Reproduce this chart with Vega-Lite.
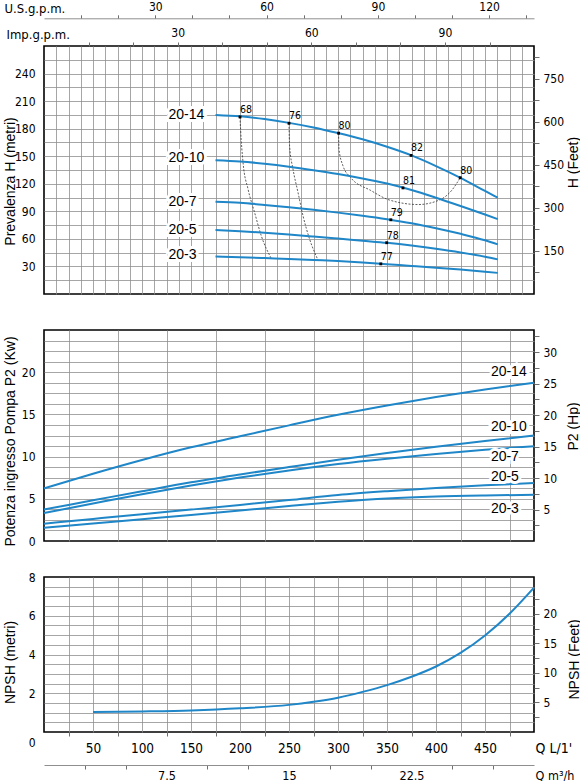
{
  "$schema": "https://vega.github.io/schema/vega-lite/v6.json",
  "background": "white",
  "padding": {"left": 2, "top": 0, "right": 0, "bottom": 0},
  "autosize": {"type": "pad"},
  "bounds": "flush",
  "spacing": 36,
  "config": {
    "view": {"stroke": "#000", "strokeWidth": 1.6},
    "axis": {
      "labelFont": "DejaVu Sans Condensed, Roboto, sans-serif",
      "labelFontSize": 12,
      "labelColor": "#000",
      "titleFont": "Liberation Sans, Arial, sans-serif",
      "titleFontSize": 14,
      "titleFontWeight": "normal",
      "titleColor": "#000",
      "gridColor": "#8f8f8f",
      "gridWidth": 0.8,
      "tickColor": "#6f6f6f",
      "domainColor": "#8f8f8f"
    }
  },
  "datasets": {
    "head": [
      {"pump": "20-14", "q": 175, "v": 195.0}, {"pump": "20-14", "q": 200, "v": 193.4}, {"pump": "20-14", "q": 225, "v": 190.4},
      {"pump": "20-14", "q": 250, "v": 186.3}, {"pump": "20-14", "q": 275, "v": 181.3}, {"pump": "20-14", "q": 300, "v": 175.2},
      {"pump": "20-14", "q": 325, "v": 168.4}, {"pump": "20-14", "q": 350, "v": 160.3}, {"pump": "20-14", "q": 375, "v": 150.9},
      {"pump": "20-14", "q": 400, "v": 139.3}, {"pump": "20-14", "q": 425, "v": 126.5}, {"pump": "20-14", "q": 450, "v": 112.2},
      {"pump": "20-14", "q": 463, "v": 104.8},
      {"pump": "20-10", "q": 175, "v": 145.7}, {"pump": "20-10", "q": 200, "v": 144.3}, {"pump": "20-10", "q": 225, "v": 141.8},
      {"pump": "20-10", "q": 250, "v": 138.6}, {"pump": "20-10", "q": 275, "v": 134.8}, {"pump": "20-10", "q": 300, "v": 130.6},
      {"pump": "20-10", "q": 325, "v": 125.8}, {"pump": "20-10", "q": 350, "v": 120.2}, {"pump": "20-10", "q": 375, "v": 113.2},
      {"pump": "20-10", "q": 400, "v": 104.8}, {"pump": "20-10", "q": 425, "v": 95.8}, {"pump": "20-10", "q": 450, "v": 86.5},
      {"pump": "20-10", "q": 463, "v": 81.5},
      {"pump": "20-7", "q": 175, "v": 100.4}, {"pump": "20-7", "q": 200, "v": 99.3}, {"pump": "20-7", "q": 225, "v": 97.0},
      {"pump": "20-7", "q": 250, "v": 94.4}, {"pump": "20-7", "q": 275, "v": 91.6}, {"pump": "20-7", "q": 300, "v": 88.6},
      {"pump": "20-7", "q": 325, "v": 85.2}, {"pump": "20-7", "q": 350, "v": 81.4}, {"pump": "20-7", "q": 375, "v": 77.0},
      {"pump": "20-7", "q": 400, "v": 71.6}, {"pump": "20-7", "q": 425, "v": 65.5}, {"pump": "20-7", "q": 450, "v": 58.5},
      {"pump": "20-7", "q": 463, "v": 54.0},
      {"pump": "20-5", "q": 175, "v": 69.6}, {"pump": "20-5", "q": 200, "v": 68.3}, {"pump": "20-5", "q": 225, "v": 66.7},
      {"pump": "20-5", "q": 250, "v": 64.8}, {"pump": "20-5", "q": 275, "v": 62.6}, {"pump": "20-5", "q": 300, "v": 60.3},
      {"pump": "20-5", "q": 325, "v": 58.0}, {"pump": "20-5", "q": 350, "v": 55.7}, {"pump": "20-5", "q": 375, "v": 52.8},
      {"pump": "20-5", "q": 400, "v": 49.3}, {"pump": "20-5", "q": 425, "v": 45.3}, {"pump": "20-5", "q": 450, "v": 40.6},
      {"pump": "20-5", "q": 463, "v": 37.7},
      {"pump": "20-3", "q": 175, "v": 40.9}, {"pump": "20-3", "q": 200, "v": 40.1}, {"pump": "20-3", "q": 225, "v": 39.1},
      {"pump": "20-3", "q": 250, "v": 38.1}, {"pump": "20-3", "q": 275, "v": 37.0}, {"pump": "20-3", "q": 300, "v": 35.9},
      {"pump": "20-3", "q": 325, "v": 34.3}, {"pump": "20-3", "q": 350, "v": 32.4}, {"pump": "20-3", "q": 375, "v": 30.6},
      {"pump": "20-3", "q": 400, "v": 28.7}, {"pump": "20-3", "q": 425, "v": 26.6}, {"pump": "20-3", "q": 450, "v": 24.3},
      {"pump": "20-3", "q": 463, "v": 23.0}
    ],
    "iso": [
      {"id": "a", "q": 200.0, "v": 192.8}, {"id": "a", "q": 200.6, "v": 179.4}, {"id": "a", "q": 203.1, "v": 143.1},
      {"id": "a", "q": 208.2, "v": 114.2}, {"id": "a", "q": 214.9, "v": 88.7}, {"id": "a", "q": 221.7, "v": 63.4},
      {"id": "a", "q": 231.9, "v": 38.7},
      {"id": "b", "q": 250.0, "v": 185.9}, {"id": "b", "q": 250.6, "v": 161.2}, {"id": "b", "q": 254.1, "v": 135.9},
      {"id": "b", "q": 259.2, "v": 110.5}, {"id": "b", "q": 264.3, "v": 85.1}, {"id": "b", "q": 271.0, "v": 59.8},
      {"id": "b", "q": 279.6, "v": 37.0},
      {"id": "c", "q": 300.6, "v": 175.1}, {"id": "c", "q": 301.0, "v": 157.7}, {"id": "c", "q": 305.1, "v": 139.5},
      {"id": "c", "q": 312.9, "v": 126.8}, {"id": "c", "q": 333.3, "v": 112.8}, {"id": "c", "q": 352.0, "v": 102.5},
      {"id": "c", "q": 382.1, "v": 97.4}, {"id": "c", "q": 404.8, "v": 103.0}, {"id": "c", "q": 416.0, "v": 112.8},
      {"id": "c", "q": 424.7, "v": 126.6}
    ],
    "eff": [
      {"label": "68", "q": 200.0, "v": 192.8}, {"label": "76", "q": 250.0, "v": 185.9}, {"label": "80", "q": 300.6, "v": 175.1},
      {"label": "82", "q": 374.6, "v": 150.9}, {"label": "80", "q": 424.7, "v": 126.6}, {"label": "81", "q": 366.3, "v": 115.5},
      {"label": "79", "q": 353.9, "v": 80.8}, {"label": "78", "q": 349.7, "v": 55.8}, {"label": "77", "q": 343.7, "v": 32.8}
    ],
    "headLabels": [
      {"pump": "20-14", "q": 127, "v": 194.9}, {"pump": "20-10", "q": 127, "v": 148.5}, {"pump": "20-7", "q": 127, "v": 100.4},
      {"pump": "20-5", "q": 127, "v": 69.6}, {"pump": "20-3", "q": 127, "v": 42.4}
    ],
    "power": [
      {"pump": "20-14", "q": 0, "v": 6.23}, {"pump": "20-14", "q": 50, "v": 7.97}, {"pump": "20-14", "q": 100, "v": 9.6},
      {"pump": "20-14", "q": 150, "v": 11.1}, {"pump": "20-14", "q": 200, "v": 12.4}, {"pump": "20-14", "q": 250, "v": 13.7},
      {"pump": "20-14", "q": 300, "v": 14.95}, {"pump": "20-14", "q": 350, "v": 16.05}, {"pump": "20-14", "q": 400, "v": 17.05},
      {"pump": "20-14", "q": 450, "v": 17.95}, {"pump": "20-14", "q": 500, "v": 18.75},
      {"pump": "20-10", "q": 0, "v": 3.74}, {"pump": "20-10", "q": 50, "v": 4.82}, {"pump": "20-10", "q": 100, "v": 5.9},
      {"pump": "20-10", "q": 150, "v": 6.95}, {"pump": "20-10", "q": 200, "v": 7.88}, {"pump": "20-10", "q": 250, "v": 8.76},
      {"pump": "20-10", "q": 300, "v": 9.62}, {"pump": "20-10", "q": 350, "v": 10.42}, {"pump": "20-10", "q": 400, "v": 11.16},
      {"pump": "20-10", "q": 450, "v": 11.85}, {"pump": "20-10", "q": 500, "v": 12.5},
      {"pump": "20-7", "q": 0, "v": 3.31}, {"pump": "20-7", "q": 50, "v": 4.44}, {"pump": "20-7", "q": 100, "v": 5.55},
      {"pump": "20-7", "q": 150, "v": 6.58}, {"pump": "20-7", "q": 200, "v": 7.52}, {"pump": "20-7", "q": 250, "v": 8.36},
      {"pump": "20-7", "q": 300, "v": 9.12}, {"pump": "20-7", "q": 350, "v": 9.75}, {"pump": "20-7", "q": 400, "v": 10.3},
      {"pump": "20-7", "q": 450, "v": 10.8}, {"pump": "20-7", "q": 500, "v": 11.24},
      {"pump": "20-5", "q": 0, "v": 2.05}, {"pump": "20-5", "q": 50, "v": 2.62}, {"pump": "20-5", "q": 100, "v": 3.18},
      {"pump": "20-5", "q": 150, "v": 3.72}, {"pump": "20-5", "q": 200, "v": 4.27}, {"pump": "20-5", "q": 250, "v": 4.85},
      {"pump": "20-5", "q": 300, "v": 5.45}, {"pump": "20-5", "q": 350, "v": 5.9}, {"pump": "20-5", "q": 400, "v": 6.28},
      {"pump": "20-5", "q": 450, "v": 6.6}, {"pump": "20-5", "q": 500, "v": 6.86},
      {"pump": "20-3", "q": 0, "v": 1.58}, {"pump": "20-3", "q": 50, "v": 2.08}, {"pump": "20-3", "q": 100, "v": 2.58},
      {"pump": "20-3", "q": 150, "v": 3.08}, {"pump": "20-3", "q": 200, "v": 3.6}, {"pump": "20-3", "q": 250, "v": 4.15},
      {"pump": "20-3", "q": 300, "v": 4.65}, {"pump": "20-3", "q": 350, "v": 5.05}, {"pump": "20-3", "q": 400, "v": 5.28},
      {"pump": "20-3", "q": 450, "v": 5.4}, {"pump": "20-3", "q": 500, "v": 5.47}
    ],
    "powerLabels": [
      {"pump": "20-14", "q": 456, "v": 20.0}, {"pump": "20-10", "q": 456, "v": 13.56}, {"pump": "20-7", "q": 456, "v": 9.93},
      {"pump": "20-5", "q": 456, "v": 7.57}, {"pump": "20-3", "q": 456, "v": 3.83}
    ],
    "npsh": [
      {"q": 50, "v": 1.03}, {"q": 100, "v": 1.06}, {"q": 150, "v": 1.11}, {"q": 200, "v": 1.22}, {"q": 250, "v": 1.4},
      {"q": 275, "v": 1.56}, {"q": 300, "v": 1.77}, {"q": 325, "v": 2.07}, {"q": 350, "v": 2.42}, {"q": 375, "v": 2.85},
      {"q": 400, "v": 3.38}, {"q": 425, "v": 4.08}, {"q": 450, "v": 4.98}, {"q": 475, "v": 6.1}, {"q": 500, "v": 7.45}
    ]
  },
  "vconcat": [
    {
      "width": 490,
      "height": 248,
      "resolve": {"axis": {"x": "independent", "y": "independent"}},
      "layer": [
        {
          "data": {"name": "iso"},
          "mark": {"type": "line", "color": "#333", "strokeWidth": 0.8, "strokeDash": [2, 1.5], "interpolate": "monotone"},
          "encoding": {
            "x": {
              "field": "q", "type": "quantitative",
              "scale": {"domain": [0, 500], "nice": false},
              "axis": {
                "orient": "bottom",
                "values": [12.5, 25, 37.5, 50, 62.5, 75, 87.5, 100, 112.5, 125, 137.5, 150, 162.5, 175, 187.5, 200, 212.5, 225, 237.5, 250, 262.5, 275, 287.5, 300, 312.5, 325, 337.5, 350, 362.5, 375, 387.5, 400, 412.5, 425, 437.5, 450, 462.5, 475, 487.5],
                "labels": false, "ticks": false, "domain": false, "grid": true, "title": null
              }
            },
            "y": {
              "field": "v", "type": "quantitative",
              "scale": {"domain": [0, 270], "nice": false},
              "axis": {
                "orient": "left",
                "values": [15, 30, 45, 60, 75, 90, 105, 120, 135, 150, 165, 180, 195, 210, 225, 240, 255],
                "labelExpr": "datum.value % 30 === 0 ? '' + datum.value : ''",
                "ticks": false, "domain": false, "grid": true, "labelPadding": 9,
                "title": "Prevalenza H (metri)", "titleX": -34, "titleY": 135, "titleBaseline": "middle"
              }
            },
            "detail": {"field": "id"}
          }
        },
        {
          "data": {"name": "head"},
          "mark": {"type": "line", "color": "#1f86c8", "strokeWidth": 2, "interpolate": "monotone"},
          "encoding": {
            "x": {
              "field": "q", "type": "quantitative",
              "scale": {"domain": [0, 500], "nice": false},
              "axis": {
                "orient": "top", "offset": 27.7, "grid": false,
                "values": [37.854, 75.708, 113.562, 151.416, 189.271, 227.125, 264.979, 302.833, 340.687, 378.541, 416.395, 454.249, 492.103],
                "labelExpr": "round(datum.value / 3.78541) % 30 === 0 ? '' + round(datum.value / 3.78541) : ''",
                "tickSize": 3.5, "labelPadding": 1,
                "title": "U.S.g.p.m.", "titleX": -40, "titleY": -10, "titleAlign": "left", "titleBaseline": "middle",
                "titleFont": "DejaVu Sans Condensed, Roboto, sans-serif", "titleFontSize": 13
              }
            },
            "y": {
              "field": "v", "type": "quantitative",
              "scale": {"domain": [0, 270], "nice": false},
              "axis": {
                "orient": "right", "grid": false, "domain": false,
                "values": [23.4375, 46.875, 70.3125, 93.75, 117.1875, 140.625, 164.0625, 187.5, 210.9375, 234.375, 257.8125],
                "labelExpr": "round(datum.value / 0.3125) % 150 === 0 ? '' + round(datum.value / 0.3125) : ''",
                "tickSize": 5, "labelPadding": 4,
                "title": "H (Feet)", "titleX": 39, "titleY": 116, "titleAngle": -90, "titleBaseline": "middle"
              }
            },
            "detail": {"field": "pump"}
          }
        },
        {
          "data": {"name": "eff"},
          "mark": {"type": "point", "shape": "square", "filled": true, "size": 8, "color": "#000", "opacity": 1},
          "encoding": {
            "x": {
              "field": "q", "type": "quantitative",
              "scale": {"domain": [0, 500], "nice": false},
              "axis": {
                "orient": "top", "offset": 0, "grid": false, "domain": false,
                "values": [45.461, 90.922, 136.383, 181.844, 227.305, 272.765, 318.226, 363.687, 409.148, 454.609],
                "labelExpr": "round(datum.value / 4.54609) % 30 === 0 ? '' + round(datum.value / 4.54609) : ''",
                "tickSize": 4, "labelPadding": 3,
                "title": "Imp.g.p.m.", "titleX": -38, "titleY": -12, "titleAlign": "left", "titleBaseline": "middle",
                "titleFont": "DejaVu Sans Condensed, Roboto, sans-serif", "titleFontSize": 13
              }
            },
            "y": {"field": "v", "type": "quantitative", "scale": {"domain": [0, 270], "nice": false}, "axis": null}
          }
        },
        {
          "data": {"name": "eff"},
          "mark": {"type": "text", "align": "left", "baseline": "bottom", "dy": -2, "font": "DejaVu Sans Condensed, Roboto, sans-serif", "fontSize": 10.5, "color": "#000"},
          "encoding": {
            "x": {"field": "q", "type": "quantitative", "axis": null},
            "y": {"field": "v", "type": "quantitative", "axis": null},
            "text": {"field": "label"}
          }
        },
        {
          "data": {"name": "headLabels"},
          "mark": {"type": "text", "align": "left", "baseline": "middle", "font": "Liberation Sans, Arial, sans-serif", "fontSize": 14, "color": "white", "stroke": "white", "strokeWidth": 6},
          "encoding": {
            "x": {"field": "q", "type": "quantitative", "axis": null},
            "y": {"field": "v", "type": "quantitative", "axis": null},
            "text": {"field": "pump"}
          }
        },
        {
          "data": {"name": "headLabels"},
          "mark": {"type": "text", "align": "left", "baseline": "middle", "font": "Liberation Sans, Arial, sans-serif", "fontSize": 14, "color": "#000"},
          "encoding": {
            "x": {"field": "q", "type": "quantitative", "axis": null},
            "y": {"field": "v", "type": "quantitative", "axis": null},
            "text": {"field": "pump"}
          }
        }
      ]
    },
    {
      "width": 490,
      "height": 211,
      "resolve": {"axis": {"y": "independent"}},
      "layer": [
        {
          "data": {"name": "power"},
          "mark": {"type": "line", "color": "#1f86c8", "strokeWidth": 2, "interpolate": "monotone"},
          "encoding": {
            "x": {
              "field": "q", "type": "quantitative",
              "scale": {"domain": [0, 500], "nice": false},
              "axis": {
                "values": [25, 50, 75, 100, 125, 150, 175, 200, 225, 250, 275, 300, 325, 350, 375, 400, 425, 450, 475],
                "labels": false, "ticks": false, "domain": false, "grid": true, "title": null
              }
            },
            "y": {
              "field": "v", "type": "quantitative",
              "scale": {"domain": [0, 25], "nice": false},
              "axis": {
                "orient": "left",
                "values": [0, 1.25, 2.5, 3.75, 5, 6.25, 7.5, 8.75, 10, 11.25, 12.5, 13.75, 15, 16.25, 17.5, 18.75, 20, 21.25, 22.5, 23.75],
                "labelExpr": "datum.value % 5 === 0 ? '' + datum.value : ''",
                "gridOpacity": {"condition": {"test": "datum.value === 0", "value": 0}, "value": 1},
                "ticks": false, "domain": false, "grid": true, "labelPadding": 9,
                "title": "Potenza ingresso Pompa P2 (Kw)", "titleX": -34, "titleY": 111, "titleBaseline": "middle"
              }
            },
            "detail": {"field": "pump"}
          }
        },
        {
          "data": {"name": "powerLabels"},
          "mark": {"type": "text", "align": "left", "baseline": "middle", "font": "Liberation Sans, Arial, sans-serif", "fontSize": 14, "color": "white", "stroke": "white", "strokeWidth": 6},
          "encoding": {
            "x": {"field": "q", "type": "quantitative"},
            "y": {
              "field": "v", "type": "quantitative",
              "scale": {"domain": [0, 25], "nice": false},
              "axis": {
                "orient": "right", "grid": false, "domain": false,
                "values": [1.86425, 3.7285, 5.59275, 7.457, 9.32125, 11.1855, 13.04975, 14.914, 16.77825, 18.6425, 20.50675, 22.371, 24.23525],
                "labelExpr": "round(datum.value / 0.7457) % 5 === 0 ? '' + round(datum.value / 0.7457) : ''",
                "tickSize": 5, "labelPadding": 4,
                "title": "P2 (Hp)", "titleX": 39, "titleY": 96, "titleAngle": -90, "titleBaseline": "middle"
              }
            },
            "text": {"field": "pump"}
          }
        },
        {
          "data": {"name": "powerLabels"},
          "mark": {"type": "text", "align": "left", "baseline": "middle", "font": "Liberation Sans, Arial, sans-serif", "fontSize": 14, "color": "#000"},
          "encoding": {
            "x": {"field": "q", "type": "quantitative"},
            "y": {"field": "v", "type": "quantitative", "axis": null},
            "text": {"field": "pump"}
          }
        }
      ]
    },
    {
      "width": 490,
      "height": 155,
      "resolve": {"axis": {"x": "independent", "y": "independent"}},
      "layer": [
        {
          "data": {"name": "npsh"},
          "mark": {"type": "line", "color": "#1f86c8", "strokeWidth": 2, "interpolate": "monotone"},
          "encoding": {
            "x": {
              "field": "q", "type": "quantitative",
              "scale": {"domain": [0, 500], "nice": false},
              "axis": {
                "orient": "bottom",
                "values": [25, 50, 75, 100, 125, 150, 175, 200, 225, 250, 275, 300, 325, 350, 375, 400, 425, 450, 475],
                "labelExpr": "datum.value % 50 === 0 ? '' + datum.value : ''",
                "tickOpacity": {"condition": {"test": "datum.value % 50 === 25", "value": 1}, "value": 0},
                "tickSize": 4, "labelPadding": 5, "labelFontSize": 13.5,
                "domain": false, "grid": true,
                "title": "Q L/1'", "titleX": 491, "titleY": 16, "titleAlign": "left", "titleBaseline": "middle",
                "titleFont": "DejaVu Sans Condensed, Roboto, sans-serif", "titleFontSize": 14
              }
            },
            "y": {
              "field": "v", "type": "quantitative",
              "scale": {"domain": [0, 8], "nice": false},
              "axis": {
                "orient": "left",
                "values": [0, 0.5, 1, 1.5, 2, 2.5, 3, 3.5, 4, 4.5, 5, 5.5, 6, 6.5, 7, 7.5, 8],
                "labelExpr": "datum.value % 2 === 0 ? '' + datum.value : ''",
                "gridOpacity": {"condition": {"test": "datum.value === 0 || datum.value === 8", "value": 0}, "value": 1},
                "labelOffset": {"condition": {"test": "datum.value === 0", "value": 10}, "value": 0},
                "ticks": false, "domain": false, "grid": true, "labelPadding": 9,
                "title": "NPSH (metri)", "titleX": -34, "titleY": 85, "titleBaseline": "middle"
              }
            }
          }
        },
        {
          "data": {"name": "npsh"},
          "mark": {"type": "point", "opacity": 0},
          "encoding": {
            "x": {
              "field": "q", "type": "quantitative",
              "scale": {"domain": [0, 500], "nice": false},
              "axis": {
                "orient": "bottom", "offset": 33, "grid": false,
                "values": [41.667, 83.333, 125, 166.667, 208.333, 250, 291.667, 333.333, 375, 416.667, 458.333],
                "labelExpr": "datum.value === 125 ? '7.5' : datum.value === 250 ? '15' : datum.value === 375 ? '22.5' : ''",
                "tickOpacity": {"condition": {"test": "datum.value % 125 === 0", "value": 0}, "value": 1},
                "tickSize": 4, "labelPadding": 0, "labelFontSize": 12.5,
                "title": "Q m³/h", "titleX": 491, "titleY": 10, "titleAlign": "left", "titleBaseline": "middle",
                "titleFont": "DejaVu Sans Condensed, Roboto, sans-serif", "titleFontSize": 12.5
              }
            },
            "y": {
              "field": "v", "type": "quantitative",
              "scale": {"domain": [0, 8], "nice": false},
              "axis": {
                "orient": "right", "grid": false, "domain": false,
                "values": [0.762, 1.524, 2.286, 3.048, 3.81, 4.572, 5.334, 6.096, 6.858],
                "labelExpr": "round(datum.value / 0.3048) % 5 === 0 ? '' + round(datum.value / 0.3048) : ''",
                "tickSize": 5, "labelPadding": 4,
                "title": "NPSH (Feet)", "titleX": 40, "titleY": 82, "titleAngle": -90, "titleBaseline": "middle"
              }
            }
          }
        }
      ]
    }
  ]
}
